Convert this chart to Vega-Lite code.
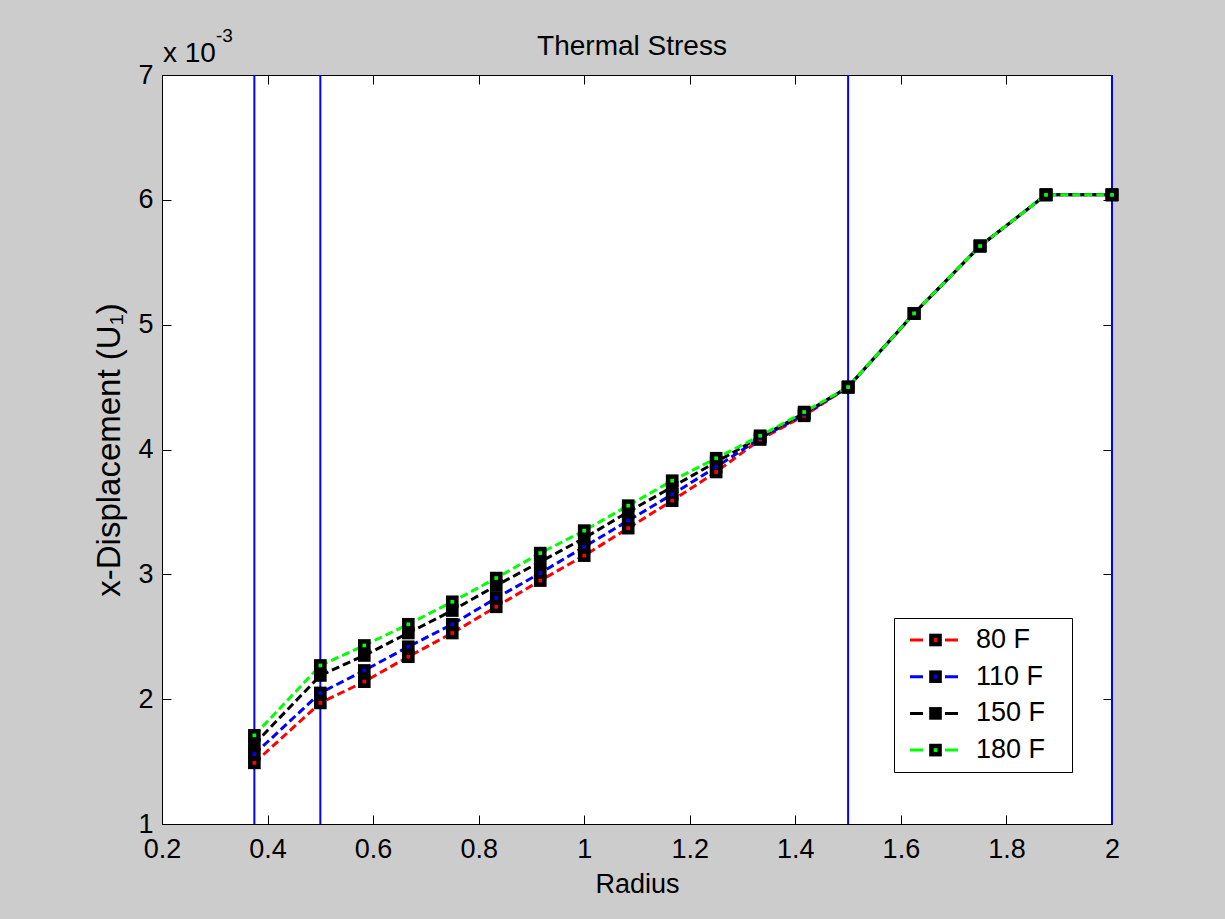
{
  "$schema": "https://vega.github.io/schema/vega-lite/v6.json",
  "width": 950,
  "height": 749,
  "autosize": {"type": "none"},
  "padding": {"left": 162, "top": 75, "right": 113, "bottom": 95},
  "background": "#cccccc",
  "view": {"fill": "white", "stroke": null},
  "config": {
    "font": "Liberation Sans",
    "axis": {
      "grid": false,
      "tickSize": -9,
      "tickColor": "black",
      "tickWidth": 1,
      "domainColor": "black",
      "domainWidth": 1,
      "labelColor": "black",
      "titleColor": "black",
      "labelFont": "Liberation Sans",
      "titleFont": "Liberation Sans",
      "labelFontSize": 27,
      "titleFontSize": 27,
      "titleFontWeight": "normal",
      "labelFlush": false,
      "labelOverlap": false,
      "labelBound": false
    },
    "legend": {"labelFont": "Liberation Sans", "labelColor": "black", "labelFontSize": 27}
  },
  "title": {
    "text": "Thermal Stress",
    "fontSize": 28,
    "fontWeight": "normal",
    "font": "Liberation Sans",
    "color": "black",
    "anchor": "middle",
    "frame": "group",
    "baseline": "alphabetic",
    "offset": 22,
    "dy": 78,
    "dx": -5
  },
  "datasets": {
    "disp": [
      {"r": 0.375, "temp": 80, "u": 0.00149},
      {"r": 0.5, "temp": 80, "u": 0.00197},
      {"r": 0.5833, "temp": 80, "u": 0.00214},
      {"r": 0.6667, "temp": 80, "u": 0.00234},
      {"r": 0.75, "temp": 80, "u": 0.00253},
      {"r": 0.8333, "temp": 80, "u": 0.00274},
      {"r": 0.9167, "temp": 80, "u": 0.00295},
      {"r": 1.0, "temp": 80, "u": 0.00315},
      {"r": 1.0833, "temp": 80, "u": 0.00337},
      {"r": 1.1667, "temp": 80, "u": 0.00359},
      {"r": 1.25, "temp": 80, "u": 0.00382},
      {"r": 1.3333, "temp": 80, "u": 0.00408},
      {"r": 1.4167, "temp": 80, "u": 0.00427},
      {"r": 1.5, "temp": 80, "u": 0.0045},
      {"r": 1.625, "temp": 80, "u": 0.00509},
      {"r": 1.75, "temp": 80, "u": 0.00563},
      {"r": 1.875, "temp": 80, "u": 0.00604},
      {"r": 2.0, "temp": 80, "u": 0.00604},
      {"r": 0.375, "temp": 110, "u": 0.00156},
      {"r": 0.5, "temp": 110, "u": 0.00205},
      {"r": 0.5833, "temp": 110, "u": 0.00223},
      {"r": 0.6667, "temp": 110, "u": 0.00242},
      {"r": 0.75, "temp": 110, "u": 0.0026},
      {"r": 0.8333, "temp": 110, "u": 0.00281},
      {"r": 0.9167, "temp": 110, "u": 0.00301},
      {"r": 1.0, "temp": 110, "u": 0.00322},
      {"r": 1.0833, "temp": 110, "u": 0.00343},
      {"r": 1.1667, "temp": 110, "u": 0.00364},
      {"r": 1.25, "temp": 110, "u": 0.00386},
      {"r": 1.3333, "temp": 110, "u": 0.00409},
      {"r": 1.4167, "temp": 110, "u": 0.00428},
      {"r": 1.5, "temp": 110, "u": 0.0045},
      {"r": 1.625, "temp": 110, "u": 0.00509},
      {"r": 1.75, "temp": 110, "u": 0.00563},
      {"r": 1.875, "temp": 110, "u": 0.00604},
      {"r": 2.0, "temp": 110, "u": 0.00604},
      {"r": 0.375, "temp": 150, "u": 0.00164},
      {"r": 0.5, "temp": 150, "u": 0.00219},
      {"r": 0.5833, "temp": 150, "u": 0.00235},
      {"r": 0.6667, "temp": 150, "u": 0.00253},
      {"r": 0.75, "temp": 150, "u": 0.00271},
      {"r": 0.8333, "temp": 150, "u": 0.00291},
      {"r": 0.9167, "temp": 150, "u": 0.0031},
      {"r": 1.0, "temp": 150, "u": 0.00329},
      {"r": 1.0833, "temp": 150, "u": 0.0035},
      {"r": 1.1667, "temp": 150, "u": 0.0037},
      {"r": 1.25, "temp": 150, "u": 0.0039},
      {"r": 1.3333, "temp": 150, "u": 0.0041},
      {"r": 1.4167, "temp": 150, "u": 0.00429},
      {"r": 1.5, "temp": 150, "u": 0.0045},
      {"r": 1.625, "temp": 150, "u": 0.00509},
      {"r": 1.75, "temp": 150, "u": 0.00563},
      {"r": 1.875, "temp": 150, "u": 0.00604},
      {"r": 2.0, "temp": 150, "u": 0.00604},
      {"r": 0.375, "temp": 180, "u": 0.00171},
      {"r": 0.5, "temp": 180, "u": 0.00227},
      {"r": 0.5833, "temp": 180, "u": 0.00243},
      {"r": 0.6667, "temp": 180, "u": 0.0026},
      {"r": 0.75, "temp": 180, "u": 0.00278},
      {"r": 0.8333, "temp": 180, "u": 0.00297},
      {"r": 0.9167, "temp": 180, "u": 0.00317},
      {"r": 1.0, "temp": 180, "u": 0.00335},
      {"r": 1.0833, "temp": 180, "u": 0.00355},
      {"r": 1.1667, "temp": 180, "u": 0.00375},
      {"r": 1.25, "temp": 180, "u": 0.00393},
      {"r": 1.3333, "temp": 180, "u": 0.00411},
      {"r": 1.4167, "temp": 180, "u": 0.0043},
      {"r": 1.5, "temp": 180, "u": 0.0045},
      {"r": 1.625, "temp": 180, "u": 0.00509},
      {"r": 1.75, "temp": 180, "u": 0.00563},
      {"r": 1.875, "temp": 180, "u": 0.00604},
      {"r": 2.0, "temp": 180, "u": 0.00604}
    ],
    "bounds": [{"r": 0.375}, {"r": 0.5}, {"r": 1.5}, {"r": 2.0}],
    "note": [{"r": 0.2, "u": 0.007, "base": "x 10", "sup": "-3"}]
  },
  "layer": [
    {
      "data": {"name": "bounds"},
      "mark": {"type": "rule", "color": "#0000ff", "strokeWidth": 2},
      "encoding": {
        "x": {"field": "r", "type": "quantitative", "scale": {"domain": [0.2, 2], "nice": false, "zero": false}, "axis": null}
      }
    },
    {
      "data": {"name": "disp"},
      "mark": {"type": "line", "strokeDash": [8, 4], "strokeWidth": 3},
      "encoding": {
        "x": {
          "field": "r", "type": "quantitative",
          "scale": {"domain": [0.2, 2], "nice": false, "zero": false},
          "axis": {
            "orient": "bottom",
            "values": [0.2, 0.4, 0.6, 0.8, 1, 1.2, 1.4, 1.6, 1.8, 2],
            "labelExpr": "format(datum.value, '~g')",
            "title": "Radius",
            "labelPadding": 21,
            "titlePadding": 9
          }
        },
        "y": {
          "field": "u", "type": "quantitative",
          "scale": {"domain": [0.001, 0.007], "nice": false, "zero": false},
          "axis": {
            "orient": "left",
            "values": [0.001, 0.002, 0.003, 0.004, 0.005, 0.006, 0.007],
            "labelExpr": "format(datum.value * 1000, '~g')",
            "title": "x-Displacement (U₁)",
            "titleFontSize": 33,
            "labelPadding": 18,
            "titlePadding": 11
          }
        },
        "stroke": {
          "field": "temp", "type": "ordinal",
          "scale": {"range": ["#ff0000", "#0000ff", "#000000", "#00ff00"]},
          "legend": {
            "orient": "none", "legendX": 732, "legendY": 543, "title": null,
            "symbolType": "M-8.5,0H-4.17M3.17,0H7.5", "symbolSize": 36, "symbolStrokeWidth": 3,
            "symbolOffset": 19.5,
            "labelExpr": "datum.label + ' F'",
            "padding": 8.5, "rowPadding": 8.7, "labelOffset": 27, "zindex": 1
          }
        }
      }
    },
    {
      "data": {"name": "disp"},
      "transform": [{"filter": "datum.u > 0"}],
      "mark": {"type": "point", "shape": "square", "filled": true, "size": 160, "opacity": 1, "strokeWidth": 0},
      "encoding": {
        "x": {
          "field": "r", "type": "quantitative",
          "axis": {"orient": "top", "values": [0.2, 0.4, 0.6, 0.8, 1, 1.2, 1.4, 1.6, 1.8, 2], "labels": false, "title": null}
        },
        "y": {
          "field": "u", "type": "quantitative",
          "axis": {"orient": "right", "values": [0.001, 0.002, 0.003, 0.004, 0.005, 0.006, 0.007], "labels": false, "title": null}
        },
        "fill": {
          "field": "temp", "type": "ordinal",
          "scale": {"range": ["#000000", "#000000", "#000000", "#000000"]},
          "legend": {
            "orient": "none", "legendX": 732, "legendY": 543, "title": null,
            "symbolType": "square", "symbolSize": 160, "symbolStrokeWidth": 0, "symbolOpacity": 1,
            "symbolOffset": 19.5, "labelOffset": 27,
            "labelExpr": "datum.label + ' F--'",
            "strokeColor": "black", "fillColor": "white",
            "labelOpacity": 0, "padding": 8.5, "rowPadding": 8.7, "zindex": 0
          }
        }
      }
    },
    {
      "data": {"name": "disp"},
      "transform": [{"filter": "datum.u > -1"}],
      "mark": {"type": "point", "shape": "square", "filled": true, "size": 14, "opacity": 1, "strokeWidth": 0},
      "encoding": {
        "x": {"field": "r", "type": "quantitative", "axis": null},
        "y": {"field": "u", "type": "quantitative", "axis": null},
        "color": {
          "field": "temp", "type": "ordinal",
          "scale": {"range": ["#ff0000", "#0000ff", "#000000", "#00ff00"]},
          "legend": {
            "orient": "none", "legendX": 732, "legendY": 543, "title": null,
            "symbolType": "square", "symbolSize": 14, "symbolStrokeWidth": 0, "symbolOpacity": 1,
            "symbolOffset": 19.5,
            "labelOpacity": 0, "padding": 8.5, "rowPadding": 8.7, "zindex": 2
          }
        }
      }
    },
    {
      "data": {"name": "note"},
      "mark": {"type": "text", "align": "left", "baseline": "alphabetic", "dx": 1, "dy": -13, "fontSize": 28, "color": "black", "font": "Liberation Sans"},
      "encoding": {
        "x": {"field": "r", "type": "quantitative", "axis": null},
        "y": {"field": "u", "type": "quantitative", "axis": null},
        "text": {"field": "base"}
      }
    },
    {
      "data": {"name": "note"},
      "mark": {"type": "text", "align": "left", "baseline": "alphabetic", "dx": 54, "dy": -33, "fontSize": 19, "color": "black", "font": "Liberation Sans"},
      "encoding": {
        "x": {"field": "r", "type": "quantitative", "axis": null},
        "y": {"field": "u", "type": "quantitative", "axis": null},
        "text": {"field": "sup"}
      }
    }
  ]
}
